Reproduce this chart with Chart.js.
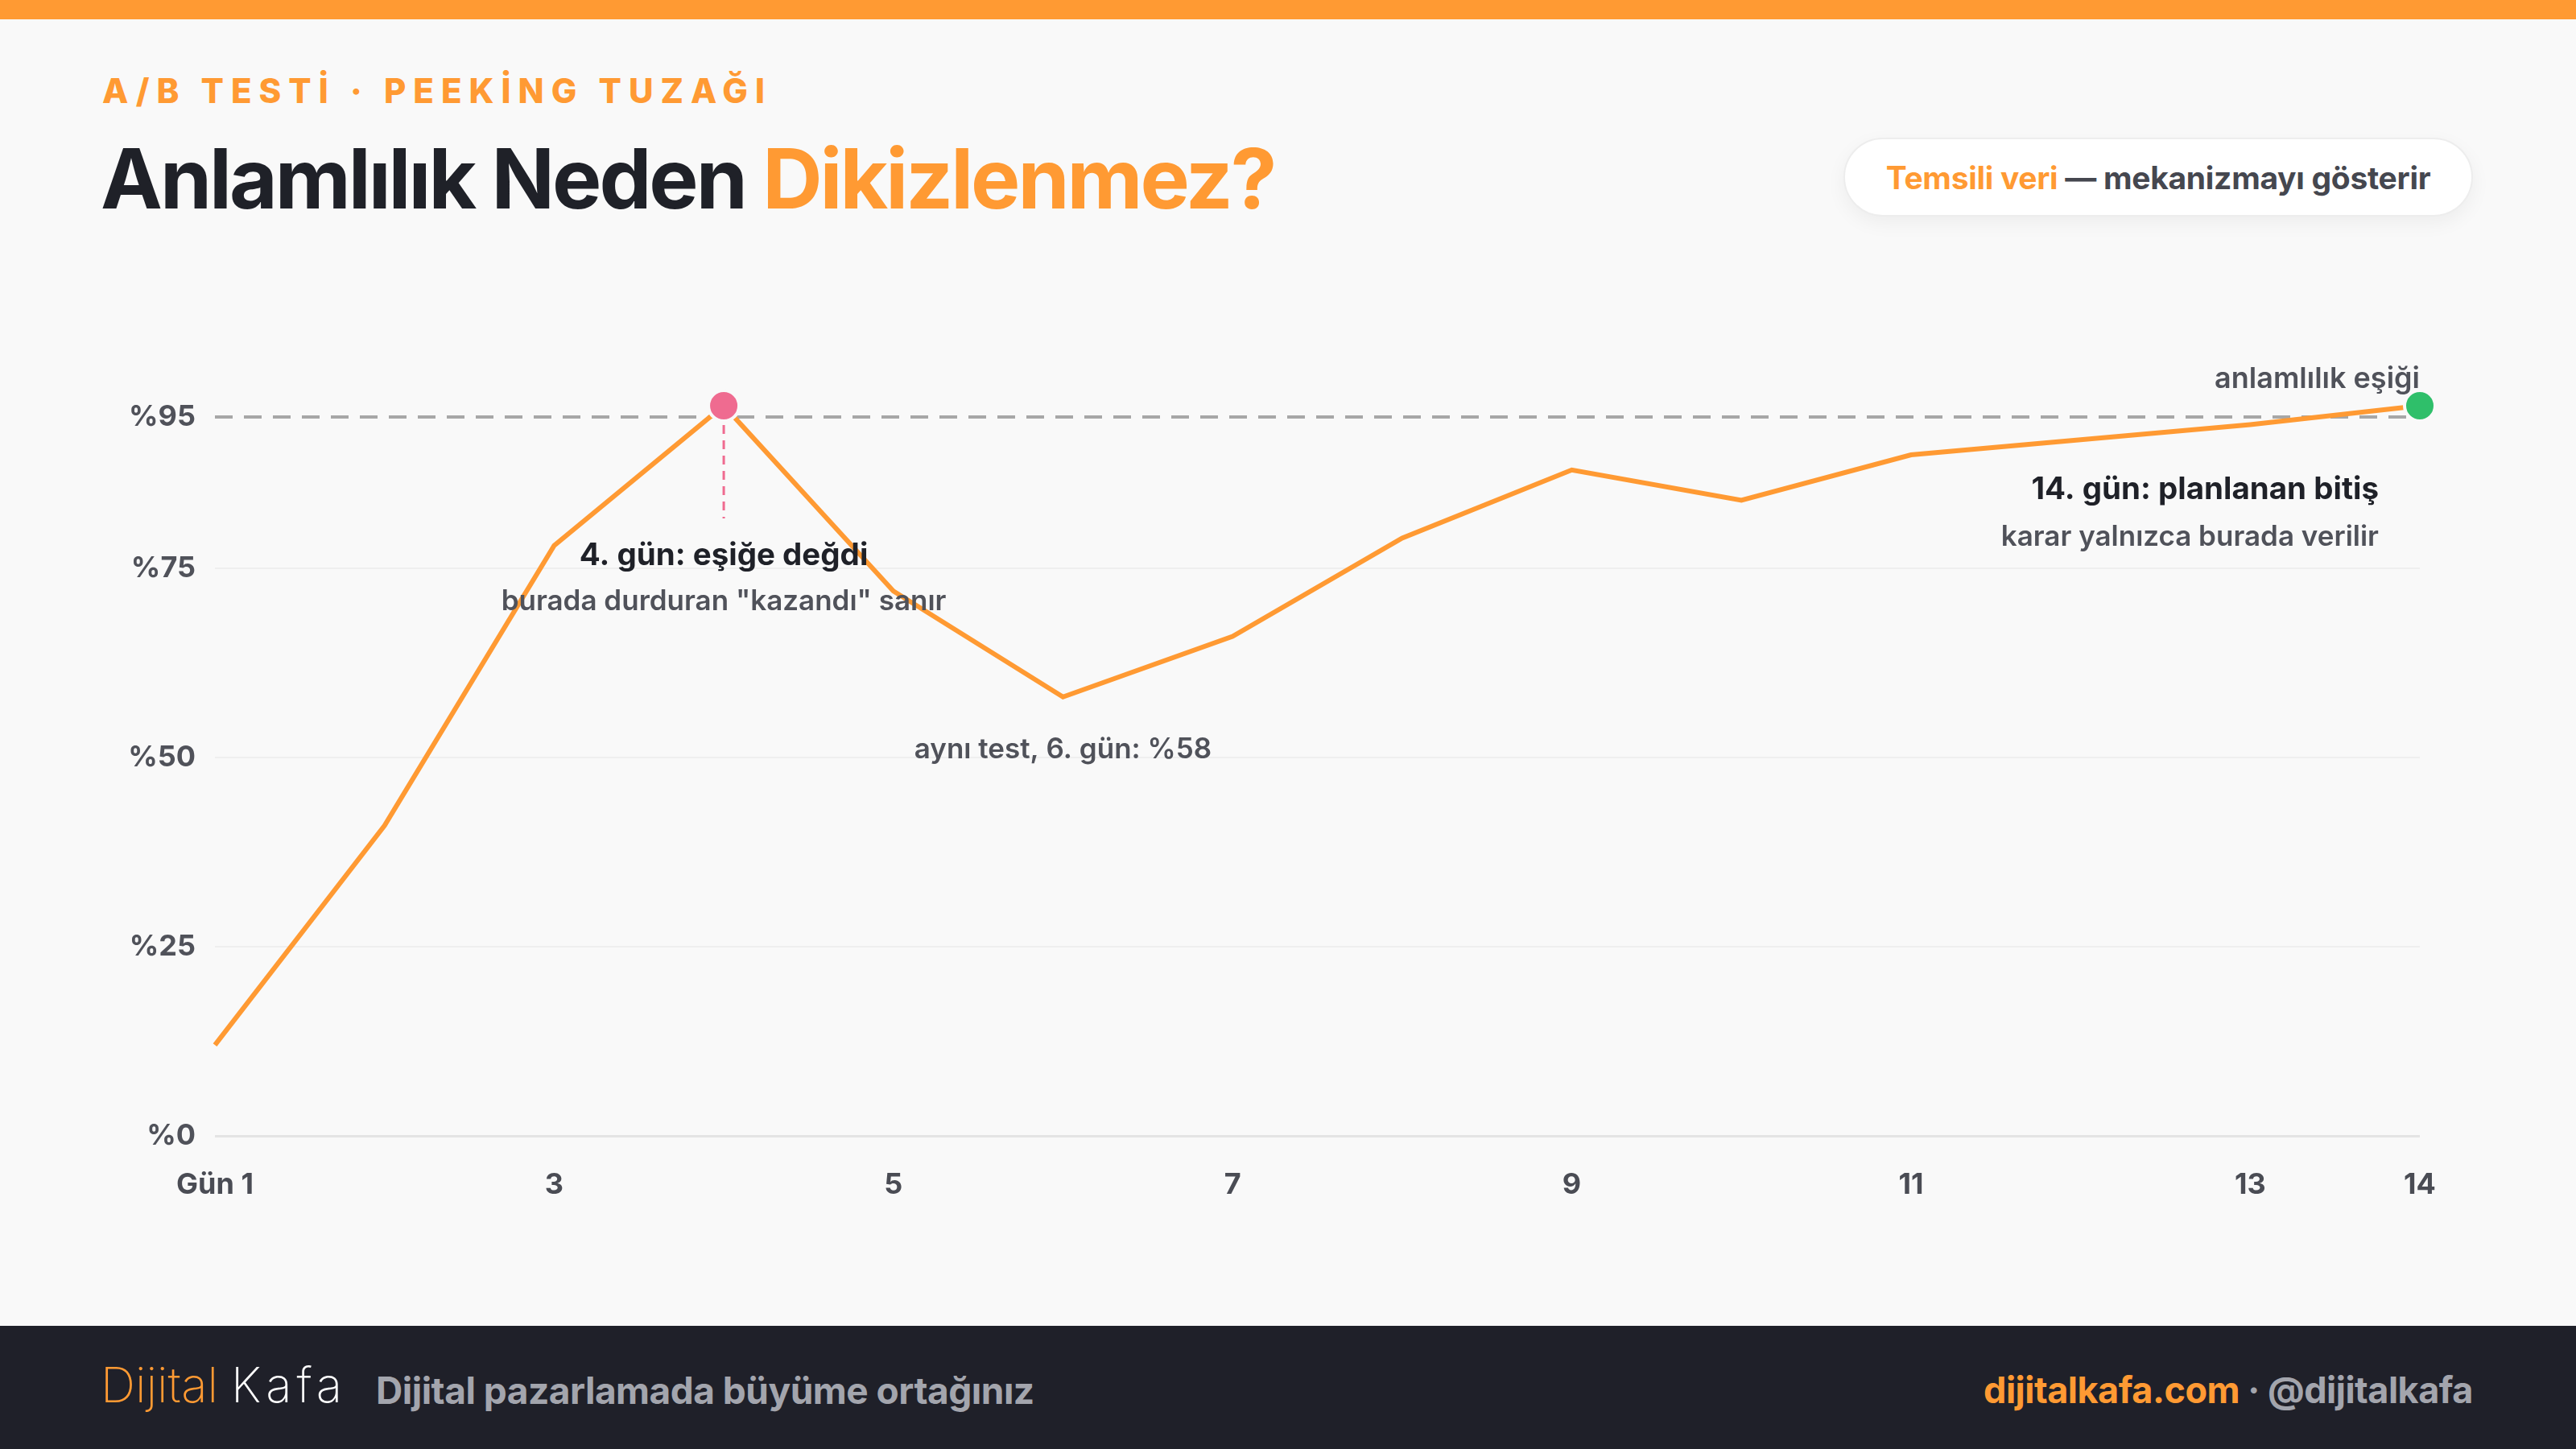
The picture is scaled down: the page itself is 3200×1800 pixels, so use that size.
<!DOCTYPE html>
<html lang="tr">
<head>
<meta charset="utf-8">
<script src="https://cdn.jsdelivr.net/npm/chart.js@4.4.1/dist/chart.umd.min.js"></script>
<style>
  html, body { margin: 0; padding: 0; }
  body {
    width: 3200px; height: 1800px; position: relative; overflow: hidden;
    background: #f9f9f9; font-family: Inter, "Liberation Sans", sans-serif;
  }
  .topbar { position: absolute; left: 0; top: 0; width: 3200px; height: 24px; background: #ff9a33; }
  .eyebrow {
    position: absolute; left: 127px; top: 92px; font-size: 42px; line-height: 1;
    font-weight: 800; letter-spacing: 9px; color: #ff9a33; white-space: nowrap;
  }
  .title {
    position: absolute; left: 125px; top: 170px; font-size: 103px; line-height: 1;
    font-weight: 700; letter-spacing: -3px; color: #1f2128; white-space: nowrap;
  }
  .title span { color: #ff9a33; }
  .pill {
    position: absolute; left: 2290px; top: 171px; width: 782px; height: 98px;
    box-sizing: border-box; border-radius: 49px; background: #fff;
    border: 2px solid #ededed; box-shadow: 0 8px 24px rgba(0,0,0,0.05);
    display: flex; align-items: center; justify-content: center;
    font-size: 39px; font-weight: 700; color: #45474f; white-space: nowrap; letter-spacing: -0.3px;
  }
  .pill span { color: #ff9a33; }
  #wrap { position: absolute; left: 0; top: 300px; width: 3200px; height: 1300px; }
  .footer {
    position: absolute; left: 0; top: 1647px; width: 3200px; height: 153px; background: #1f2029;
  }
  .logo {
    position: absolute; left: 125px; top: 1690px; font-size: 60px; line-height: 1;
    font-weight: 200; color: #ff9a33; white-space: nowrap; letter-spacing: 0px;
  }
  .logo b { font-weight: 200; color: #ffffff; margin-left: 16px; letter-spacing: 6px; }
  .tagline {
    position: absolute; left: 467px; top: 1704px; font-size: 46px; line-height: 1;
    font-weight: 700; color: #a3a5ad; white-space: nowrap; letter-spacing: -0.5px;
  }
  .site {
    position: absolute; right: 128px; top: 1704px; font-size: 45px; line-height: 1;
    font-weight: 700; color: #a3a5ad; white-space: nowrap; letter-spacing: -0.5px;
  }
  .site span { color: #ff9a33; }
</style>
</head>
<body>
<div class="topbar"></div>
<div class="eyebrow">A/B TESTİ · PEEKİNG TUZAĞI</div>
<div class="title">Anlamlılık Neden <span>Dikizlenmez?</span></div>
<div class="pill"><span>Temsili veri</span>&nbsp;— mekanizmayı gösterir</div>
<div id="wrap"><canvas id="myChart"></canvas></div>
<div class="footer"></div>
<div class="logo">Dijital<b>Kafa</b></div>
<div class="tagline">Dijital pazarlamada büyüme ortağınız</div>
<div class="site"><span>dijitalkafa.com</span> · @dijitalkafa</div>

<script>
// data
const days = [1, 2, 3, 4, 5, 6, 7, 8, 9, 10, 11, 12, 13, 14];
const dayLabels = ["Gün 1", "", "3", "", "5", "", "7", "", "9", "", "11", "", "13", "14"];
const significance = [12, 41, 78, 96.5, 72, 58, 66, 79, 88, 84, 90, 92, 94, 96.5];
const yTicks = [0, 25, 50, 75, 95];
const threshold = 95;
const peekDay = 4;
const dipDay = 6;
const endDay = 14;

const orange = "#ff9a33";
const pink = "#ef6b90";
const green = "#2fbf6a";
const dark = "#1f2128";
const gray = "#50525a";
const font = "Inter, 'Liberation Sans', sans-serif";

// threshold line + pink drop line + notes
const notes = {
  id: "notes",
  beforeDatasetsDraw(chart) {
    const { ctx, chartArea, scales } = chart;
    const y = scales.y.getPixelForValue(threshold);
    ctx.save();
    ctx.strokeStyle = "#a7a7a7";
    ctx.lineWidth = 4;
    ctx.setLineDash([22, 14]);
    ctx.beginPath();
    ctx.moveTo(chartArea.left, y);
    ctx.lineTo(chartArea.right, y);
    ctx.stroke();

    const px = scales.x.getPixelForValue(peekDay - 1);
    const py = scales.y.getPixelForValue(significance[peekDay - 1]);
    ctx.strokeStyle = pink;
    ctx.lineWidth = 3;
    ctx.setLineDash([11, 8]);
    ctx.beginPath();
    ctx.moveTo(px, py + 24);
    ctx.lineTo(px, py + 140);
    ctx.stroke();
    ctx.restore();
  },
  afterDatasetsDraw(chart) {
    const { ctx, chartArea, scales } = chart;
    const ty = scales.y.getPixelForValue(threshold);
    const px = scales.x.getPixelForValue(peekDay - 1);
    const dx = scales.x.getPixelForValue(dipDay - 1);
    const dy = scales.y.getPixelForValue(significance[dipDay - 1]);
    const ex = scales.x.getPixelForValue(endDay - 1);
    ctx.save();
    ctx.textBaseline = "middle";
    function txt(s, x, y, align, weight, size, color) {
      ctx.font = weight + " " + size + "px " + font;
      ctx.fillStyle = color;
      ctx.textAlign = align;
      ctx.fillText(s, x, y);
    }
    txt("4. gün: eşiğe değdi", px, ty + 172, "center", 700, 38.5, dark);
    txt("burada durduran \"kazandı\" sanır", px, ty + 229, "center", 600, 35, gray);
    txt("aynı test, 6. gün: %58", dx, dy + 66, "center", 600, 35, gray);
    txt("anlamlılık eşiği", chartArea.right, ty - 47, "right", 600, 36, gray);
    txt("14. gün: planlanan bitiş", ex - 51, ty + 90, "right", 700, 38.5, dark);
    txt("karar yalnızca burada verilir", ex - 51, ty + 149, "right", 600, 35, gray);
    ctx.restore();
  }
};

const markerColor = (c) => c.dataIndex === peekDay - 1 ? pink : (c.dataIndex === endDay - 1 ? green : orange);

new Chart(document.getElementById("myChart"), {
  type: "line",
  data: {
    labels: dayLabels,
    datasets: [{
      data: significance,
      borderColor: orange,
      borderWidth: 6,
      tension: 0,
      fill: false,
      pointRadius: (c) => (c.dataIndex === peekDay - 1 || c.dataIndex === endDay - 1) ? 19 : 0,
      pointBackgroundColor: markerColor,
      pointBorderColor: "#f9f9f9",
      pointBorderWidth: 4,
      pointHoverRadius: 0
    }]
  },
  options: {
    responsive: true,
    maintainAspectRatio: false,
    animation: false,
    layout: { padding: { left: 0, right: 194, top: 171, bottom: 0 } },
    plugins: { legend: { display: false }, tooltip: { enabled: false } },
    scales: {
      x: {
        grid: { display: false },
        border: { display: false },
        ticks: {
          autoSkip: false, maxRotation: 0, padding: 32,
          color: "#4a4c54", font: { family: font, size: 36, weight: 700 }
        },
        afterFit(scale) { scale.height = 189; }
      },
      y: {
        min: 0, max: 100,
        afterBuildTicks(scale) { scale.ticks = yTicks.map(v => ({ value: v })); },
        grid: {
          drawTicks: false,
          color: (c) => c.tick.value === threshold ? "rgba(0,0,0,0)" : (c.tick.value === 0 ? "#e4e4e4" : "#efefef"),
          lineWidth: (c) => c.tick.value === 0 ? 3 : 2
        },
        border: { display: false },
        ticks: {
          padding: 24,
          color: "#50525a",
          font: { family: font, size: 36, weight: 700 },
          callback: (v) => "%" + v
        },
        afterFit(scale) { scale.width = 267; }
      }
    }
  },
  plugins: [notes]
});
</script>
</body>
</html>
